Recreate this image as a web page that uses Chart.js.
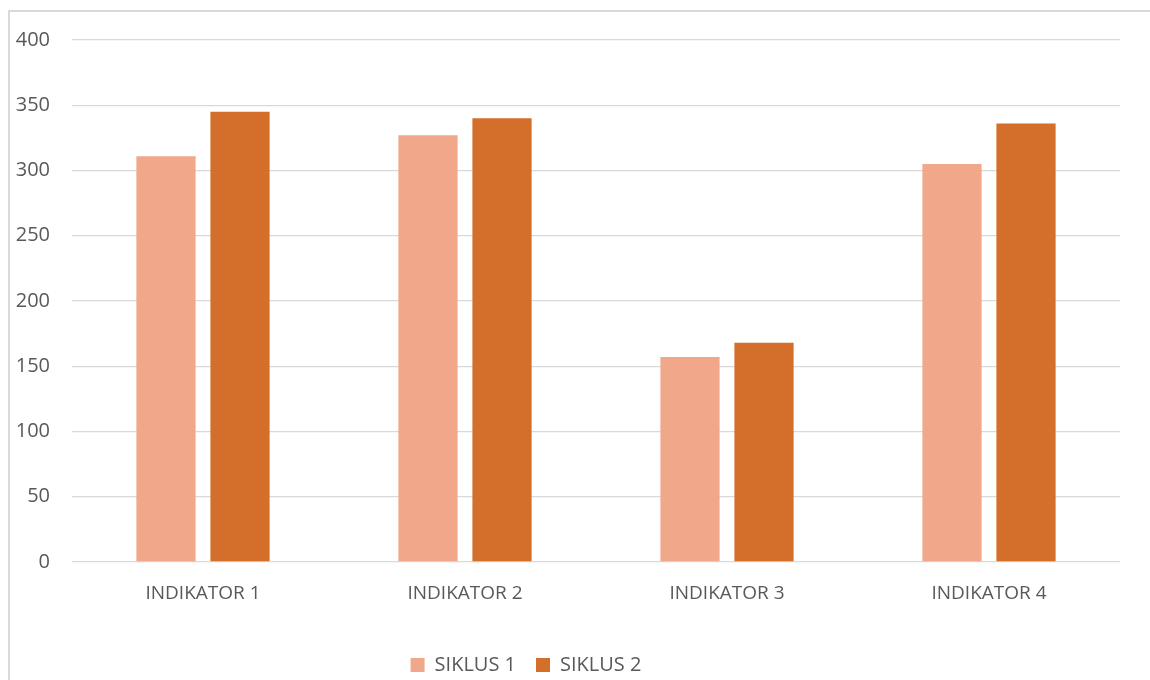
<!DOCTYPE html>
<html>
<head>
<meta charset="utf-8">
<script src="https://cdn.jsdelivr.net/npm/chart.js@4"></script>
<style>
  html, body { margin: 0; padding: 0; background: #fff; overflow: hidden; }
  #frame { position: absolute; left: 8px; top: 10px; width: 1160px; height: 690px; border: 2px solid #d9d9d9; box-sizing: border-box; }
  #wrap { position: absolute; left: 0; top: 0; width: 1150px; height: 680px; }
</style>
</head>
<body>
<div id="frame"></div>
<div id="wrap"><canvas id="chart_canvas"></canvas></div>
<script>
var categories = ["INDIKATOR 1", "INDIKATOR 2", "INDIKATOR 3", "INDIKATOR 4"];
var siklus1 = [311, 327, 157, 305];
var siklus2 = [345, 340, 168, 336];
var seriesNames = ["SIKLUS 1", "SIKLUS 2"];

var fontName = "'Open Sans', 'Noto Sans', sans-serif";

var chartdata = {
    labels: categories,
    datasets: [
        {
            label: seriesNames[0],
            backgroundColor: "#f1a78a",
            data: siklus1,
            barPercentage: 0.8,
            categoryPercentage: 0.565
        },
        {
            label: seriesNames[1],
            backgroundColor: "#d46e2b",
            data: siklus2,
            barPercentage: 0.8,
            categoryPercentage: 0.565
        }
    ]
};

var options = {
    responsive: true,
    maintainAspectRatio: false,
    animation: false,
    layout: { padding: { left: 8, right: 30, top: 40, bottom: -5 } },
    plugins: {
        legend: {
            position: 'bottom',
            labels: {
                color: '#595959',
                font: { family: fontName, size: 20 },
                boxWidth: 14,
                boxHeight: 14,
                padding: 20
            }
        },
        tooltip: { enabled: false }
    },
    scales: {
        x: {
            grid: { display: false },
            border: { display: false },
            ticks: { color: '#595959', font: { family: fontName, size: 19 }, padding: 12 },
            afterFit: function(s) { s.height = 73; }
        },
        y: {
            min: 0,
            max: 400,
            ticks: { stepSize: 50, color: '#595959', font: { family: fontName, size: 20 }, padding: 22 },
            grid: { color: '#d9d9d9', lineWidth: 1.3, drawTicks: false },
            border: { display: false },
            afterFit: function(s) { s.width = 64; }
        }
    }
};

// legend sits a bit left of centre in the original
var legendShift = {
    id: 'legendShift',
    afterLayout: function(chart) {
        chart.legend.left -= 38;
        chart.legend.right -= 38;
    }
};

var ctx1 = document.getElementById("chart_canvas");
var chart = new Chart(ctx1, {
    type: 'bar',
    data: chartdata,
    options: options,
    plugins: [legendShift]
});
</script>
</body>
</html>
